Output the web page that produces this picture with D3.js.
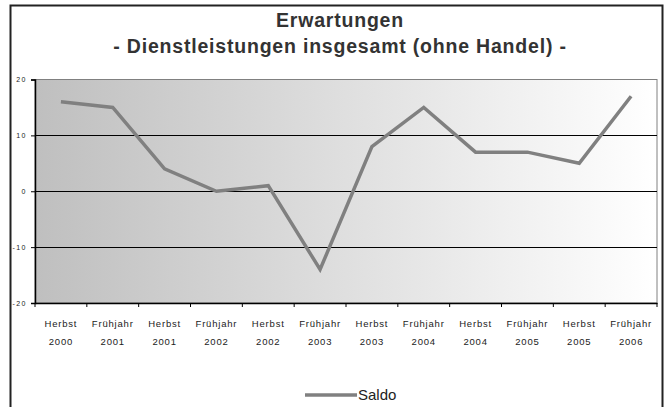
<!doctype html>
<html>
<head>
<script src="https://d3js.org/d3.v7.min.js"></script>
<style>
body { margin: 0; background: #fff; }
svg { display: block; font-family: "Liberation Sans", Arial, sans-serif; }
.title { font-weight: bold; font-size: 19.5px; letter-spacing: 0.8px; fill: #333; }
.tick text { fill: #222; }
</style>
</head>
<body>
<svg width="669" height="407" id="chart"></svg>
<script type="text/javascript">
var seasons = ["Herbst", "Frühjahr", "Herbst", "Frühjahr", "Herbst", "Frühjahr",
               "Herbst", "Frühjahr", "Herbst", "Frühjahr", "Herbst", "Frühjahr"];
var years = ["2000", "2001", "2001", "2002", "2002", "2003",
             "2003", "2004", "2004", "2005", "2005", "2006"];
var saldo = [16, 15, 4, 0, 1, -14, 8, 15, 7, 7, 5, 17];
var yTicks = [-20, -10, 0, 10, 20];

var svg = d3.select("#chart");
// plot box (note: "top" is reserved on window, so use other names)
var pLeft = 35, pRight = 657, pTop = 79.5, pBottom = 303;

// outer frame
svg.append("path")
  .attr("d", "M10.5,407 V5.5 H662.5 V407")
  .attr("fill", "none").attr("stroke", "#222").attr("stroke-width", 2);

svg.append("text").attr("class", "title")
  .attr("x", 340).attr("y", 27).attr("text-anchor", "middle")
  .text("Erwartungen");
svg.append("text").attr("class", "title")
  .attr("x", 340).attr("y", 53).attr("text-anchor", "middle")
  .text("- Dienstleistungen insgesamt (ohne Handel) -");

var idx = d3.range(saldo.length);
var x = d3.scaleBand().domain(idx).range([pLeft, pRight]);
var y = d3.scaleLinear().domain([-20, 20]).range([pBottom, pTop]);

var grad = svg.append("defs").append("linearGradient").attr("id", "bg");
grad.append("stop").attr("offset", "0%").attr("stop-color", "#bfbfbf");
grad.append("stop").attr("offset", "100%").attr("stop-color", "#ffffff");

svg.append("rect")
  .attr("x", pLeft).attr("y", pTop)
  .attr("width", pRight - pLeft).attr("height", pBottom - pTop)
  .attr("fill", "url(#bg)").attr("stroke", "#808080").attr("stroke-width", 1);

svg.selectAll(".grid").data(yTicks.filter(function (d) { return d > -20 && d < 20; }))
  .enter().append("line")
  .attr("x1", pLeft).attr("x2", pRight)
  .attr("y1", function (d) { return Math.round(y(d)) + 0.5; })
  .attr("y2", function (d) { return Math.round(y(d)) + 0.5; })
  .attr("stroke", "#000").attr("stroke-width", 1);

// y axis
var yAxis = svg.append("g").attr("transform", "translate(" + pLeft + ",0)")
  .call(d3.axisLeft(y).tickValues(yTicks).tickSize(4).tickPadding(4)
    .tickFormat(function (d) { return String(d); }));
yAxis.select(".domain").attr("stroke", "#000").attr("stroke-width", 1.5);
yAxis.selectAll("text").style("font-size", "7px").style("letter-spacing", "1.5px");

// x axis
var xAxis = svg.append("g").attr("transform", "translate(0," + pBottom + ")")
  .call(d3.axisBottom(x).tickSize(0).tickFormat(""));
xAxis.select(".domain").attr("stroke", "#000").attr("stroke-width", 1.5);
var tickPos = idx.map(function (i) { return x(i); }).concat([pRight]);
svg.selectAll(".xtick").data(tickPos).enter().append("line")
  .attr("x1", function (d) { return d; }).attr("x2", function (d) { return d; })
  .attr("y1", pBottom).attr("y2", pBottom + 4)
  .attr("stroke", "#000");

var labels = svg.selectAll(".xlab").data(idx).enter().append("g")
  .attr("transform", function (i) { return "translate(" + (x(i) + x.bandwidth() / 2) + ",0)"; });
labels.append("text").attr("y", 327).attr("text-anchor", "middle")
  .style("font-size", "9.5px").style("letter-spacing", "0.8px").attr("fill", "#222")
  .text(function (i) { return seasons[i]; });
labels.append("text").attr("y", 345).attr("text-anchor", "middle")
  .style("font-size", "9.5px").style("letter-spacing", "0.8px").attr("fill", "#222")
  .text(function (i) { return years[i]; });

var line = d3.line()
  .x(function (d, i) { return x(i) + x.bandwidth() / 2; })
  .y(function (d) { return y(d); });
svg.append("path").datum(saldo)
  .attr("d", line)
  .attr("fill", "none").attr("stroke", "#808080").attr("stroke-width", 3.5);

// legend
svg.append("line").attr("x1", 305).attr("x2", 357).attr("y1", 395).attr("y2", 395)
  .attr("stroke", "#808080").attr("stroke-width", 3.5);
svg.append("text").attr("x", 358).attr("y", 400)
  .style("font-size", "15px").attr("fill", "#222").text("Saldo");
</script>
</body>
</html>
